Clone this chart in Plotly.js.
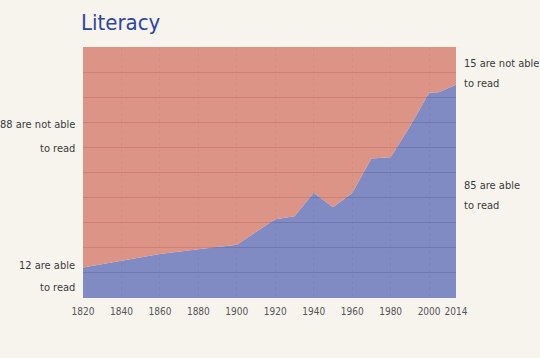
<!DOCTYPE html>
<html>
<head>
<meta charset="utf-8">
<script src="https://cdn.plot.ly/plotly-3.0.1.min.js"></script>
<style>
  html, body { margin: 0; padding: 0; background: #f7f4ee; }
  #chart { width: 540px; height: 358px; }
  #chart text { font-stretch: condensed; }
</style>
</head>
<body>
<div id="chart"></div>
<script>
// Years and share of world population (%) able to read
const years = [1820, 1840, 1860, 1880, 1900, 1920, 1930, 1940, 1950, 1960, 1970, 1980, 1990, 2000, 2005, 2014];
const literate = [12.2, 15.0, 17.5, 19.4, 21.2, 31.4, 32.6, 41.9, 36.2, 41.8, 55.6, 56.1, 68.3, 81.8, 82.0, 85.0];
const illiterate = literate.map(v => +(100 - v).toFixed(1));
const tickYears = [1820, 1840, 1860, 1880, 1900, 1920, 1940, 1960, 1980, 2000, 2014];
const tickText = tickYears.map(String);

const FONT = "'DejaVu Sans Condensed', 'DejaVu Sans', sans-serif";

const traces = [
  {
    x: years, y: literate, name: 'able to read',
    type: 'scatter', mode: 'lines', stackgroup: 'one',
    line: { width: 0 }, fillcolor: 'rgba(106,119,185,0.85)',
    hoverinfo: 'skip'
  },
  {
    x: years, y: illiterate, name: 'not able to read',
    type: 'scatter', mode: 'lines', stackgroup: 'one',
    line: { width: 0 }, fillcolor: 'rgba(214,129,114,0.85)',
    hoverinfo: 'skip'
  }
];

const labelFont = { family: FONT, size: 11, color: '#3a3a3a' };
const ann = (text, x, y, xanchor) => ({
  text, x, y, xref: 'paper', yref: 'paper', xanchor, yanchor: 'middle',
  showarrow: false, font: labelFont
});
// paper coords: plot spans x 83..456, y 47..298 (px)
const px = v => (v - 83) / (456 - 83);
const py = v => (298 - v) / (298 - 47);

const layout = {
  width: 540, height: 358,
  margin: { l: 83, r: 84, t: 47, b: 60 },
  paper_bgcolor: '#f7f4ee',
  plot_bgcolor: '#ffffff',
  showlegend: false,
  title: {
    text: 'Literacy',
    x: 81 / 540, xanchor: 'left', xref: 'container',
    y: 1 - 22 / 358, yanchor: 'middle', yref: 'container',
    font: { family: FONT, size: 22, color: '#2b45a0' }
  },
  xaxis: {
    range: [1820, 2014],
    tickvals: tickYears, ticktext: tickText, tickangle: 0,
    ticklabelstandoff: 6,
    showgrid: true, gridcolor: 'rgba(150,130,130,0.35)', griddash: 'dot', gridwidth: 1,
    zeroline: false, showline: false, ticks: '',
    tickfont: { family: FONT, size: 10, color: '#555555' },
    fixedrange: true
  },
  yaxis: {
    range: [0, 100], dtick: 10,
    showgrid: true, gridcolor: 'rgb(150,130,130)', gridwidth: 1,
    showticklabels: false, zeroline: false, showline: false, ticks: '',
    fixedrange: true
  },
  annotations: [
    ann('88 are not able', px(77), py(125), 'right'),
    ann('to read', px(77), py(148), 'right'),
    ann('12 are able', px(77), py(265), 'right'),
    ann('to read', px(77), py(287), 'right'),
    ann('15 are not able', px(462), py(63), 'left'),
    ann('to read', px(462), py(83), 'left'),
    ann('85 are able', px(462), py(185), 'left'),
    ann('to read', px(462), py(205), 'left')
  ]
};

Plotly.newPlot('chart', traces, layout, { displayModeBar: false, staticPlot: true });
</script>
</body>
</html>
